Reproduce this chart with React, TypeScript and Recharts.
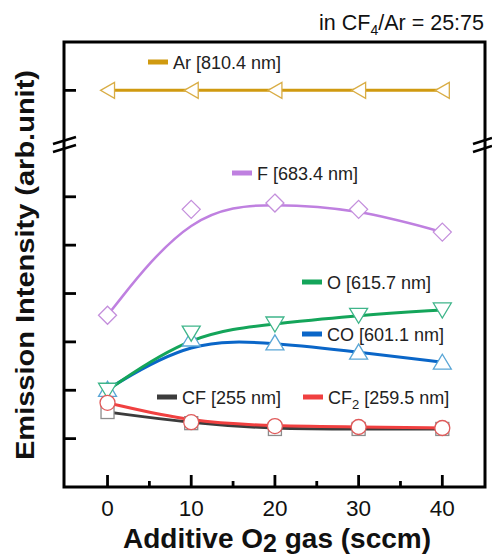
import { LineChart, Line, XAxis, YAxis, ReferenceArea } from "recharts";

const gasFlow = [0, 10, 20, 30, 40];
const arIntensity = [8.2, 8.2, 8.2, 8.2, 8.2];
const fIntensity = [3.55, 5.74, 5.87, 5.74, 5.27];
const oIntensity = [2.0, 3.18, 3.37, 3.55, 3.66];
const coIntensity = [2.02, 3.06, 2.98, 2.79, 2.58];
const cfIntensity = [1.55, 1.32, 1.2, 1.2, 1.2];
const cf2Intensity = [1.74, 1.34, 1.26, 1.24, 1.22];

const xTicks = [0, 5, 10, 15, 20, 25, 30, 35, 40];
const yTicks = [1, 2, 3, 4, 5, 6, 8.2];
const xDomain = [-5.2, 45.1];
const yDomain = [0, 9.2];

const data = gasFlow.map((flow, i) => ({
  flow,
  ar: arIntensity[i],
  f: fIntensity[i],
  o: oIntensity[i],
  co: coIntensity[i],
  cf: cfIntensity[i],
  cf2: cf2Intensity[i],
}));

const font = "'Liberation Sans', Arial, sans-serif";

type DotProps = { cx?: number; cy?: number; index?: number };

const poly = (stroke: string, pts: (cx: number, cy: number) => number[][]) =>
  (p: DotProps) => {
    const cx = p.cx ?? 0;
    const cy = p.cy ?? 0;
    return (
      <polygon
        key={p.index}
        points={pts(cx, cy).map((q) => q.join(",")).join(" ")}
        fill="#fff"
        stroke={stroke}
        strokeWidth={1.3}
      />
    );
  };

const leftTri = poly("#d9ad45", (x, y) => [[x - 7, y], [x + 7, y - 8], [x + 7, y + 8]]);
const diamond = poly("#c48fdc", (x, y) => [[x, y - 9], [x + 9, y], [x, y + 9], [x - 9, y]]);
const downTri = poly("#3fb58a", (x, y) => [[x - 9, y - 7], [x + 9, y - 7], [x, y + 8]]);
const upTri = poly("#5aa6d6", (x, y) => [[x - 9, y + 7], [x + 9, y + 7], [x, y - 8]]);
const square = (p: DotProps) => (
  <rect key={p.index} x={(p.cx ?? 0) - 6.5} y={(p.cy ?? 0) - 6.5} width={13} height={13}
    fill="#fff" stroke="#8c8c8c" strokeWidth={1.3} />
);
const circle = (p: DotProps) => (
  <circle key={p.index} cx={p.cx} cy={p.cy} r={7.5} fill="#fff" stroke="#e05a5a" strokeWidth={1.3} />
);

function XTick({ x, y, payload }: any) {
  const major = payload.value % 10 === 0;
  return (
    <g>
      <line x1={x} x2={x} y1={y} y2={y - (major ? 12 : 6)} stroke="#000" strokeWidth={2.8} />
      {major && (
        <text x={x} y={y + 29} textAnchor="middle" fontSize={22.5} fontFamily={font} fill="#111">
          {payload.value}
        </text>
      )}
    </g>
  );
}

function YTick({ x, y }: any) {
  return <line x1={x} x2={x + 12} y1={y} y2={y} stroke="#000" strokeWidth={2.8} />;
}

function LegendItem({ x, y, color, children }: { x: number; y: number; color: string; children: any }) {
  return (
    <g>
      <rect x={x} y={y - 2.5} width={20} height={5} fill={color} />
      <text x={x + 25} y={y + 6.5} fontSize={18} fontFamily={font} fill="#222">
        {children}
      </text>
    </g>
  );
}

export default function App() {
  return (
    <div style={{ position: "absolute", left: 0, top: 0, width: 492, height: 556, background: "#fff" }}>
      <LineChart width={492} height={556} data={data} margin={{ top: 42, right: 7, bottom: 0, left: 0 }}>
        <XAxis
          dataKey="flow"
          type="number"
          domain={xDomain}
          ticks={xTicks}
          allowDataOverflow
          height={69}
          tickSize={0}
          tickMargin={0}
          axisLine={false}
          tick={<XTick />}
          interval={0}
        />
        <YAxis
          type="number"
          domain={yDomain}
          ticks={yTicks}
          allowDataOverflow
          width={64}
          tickSize={0}
          tickMargin={0}
          axisLine={false}
          tick={<YTick />}
          interval={0}
        />
        <ReferenceArea
          x1={xDomain[0]}
          x2={xDomain[1]}
          y1={yDomain[0]}
          y2={yDomain[1]}
          fill="none"
          fillOpacity={0}
          stroke="#000"
          strokeWidth={3}
          ifOverflow="visible"
        />
        <Line dataKey="ar" type="linear" stroke="#d09a10" strokeWidth={3} dot={leftTri} isAnimationActive={false} />
        <Line dataKey="f" type="basis" stroke="#bf80e0" strokeWidth={2.5} dot={diamond} isAnimationActive={false} />
        <Line dataKey="co" type="basis" stroke="#0a66c8" strokeWidth={3} dot={upTri} isAnimationActive={false} />
        <Line dataKey="o" type="basis" stroke="#14a55a" strokeWidth={3} dot={downTri} isAnimationActive={false} />
        <Line dataKey="cf" type="basis" stroke="#3c3c3c" strokeWidth={3} dot={square} isAnimationActive={false} />
        <Line dataKey="cf2" type="basis" stroke="#f04040" strokeWidth={3} dot={circle} isAnimationActive={false} />
      </LineChart>
      <svg width={492} height={556} style={{ position: "absolute", left: 0, top: 0, pointerEvents: "none" }}>
        <text x={484} y={30} textAnchor="end" fontSize={21.5} fontFamily={font} fill="#111">
          in CF<tspan fontSize={14} dy={5}>4</tspan>
          <tspan dy={-5}>/Ar = 25:75</tspan>
        </text>
        <text
          transform="translate(34,265) rotate(-90)"
          textAnchor="middle"
          fontSize={25}
          fontWeight="bold"
          fontFamily={font}
          textLength={390}
          lengthAdjust="spacingAndGlyphs"
          fill="#111"
        >
          Emission Intensity (arb.unit)
        </text>
        <text x={277} y={548} textAnchor="middle" fontSize={28} fontWeight="bold" fontFamily={font} fill="#111">
          Additive O<tspan dy={4} fontSize={25}>2</tspan>
          <tspan dy={-4}> gas (sccm)</tspan>
        </text>
        <g stroke="#000" strokeWidth={2.5}>
          <line x1={53} y1={144} x2={76} y2={137} />
          <line x1={53} y1={152} x2={76} y2={145} />
          <line x1={473} y1={144} x2={492} y2={138} />
          <line x1={473} y1={152} x2={492} y2={146} />
        </g>
        <LegendItem x={148} y={62} color="#d09a10">Ar [810.4 nm]</LegendItem>
        <LegendItem x={232} y={173} color="#bf80e0">F [683.4 nm]</LegendItem>
        <LegendItem x={302} y={282} color="#14a55a">O [615.7 nm]</LegendItem>
        <LegendItem x={302} y={334} color="#0a66c8">CO [601.1 nm]</LegendItem>
        <LegendItem x={157} y={397} color="#3c3c3c">CF [255 nm]</LegendItem>
        <LegendItem x={303} y={397} color="#f04040">
          CF<tspan fontSize={13} dy={5}>2</tspan>
          <tspan dy={-5}> [259.5 nm]</tspan>
        </LegendItem>
      </svg>
    </div>
  );
}
